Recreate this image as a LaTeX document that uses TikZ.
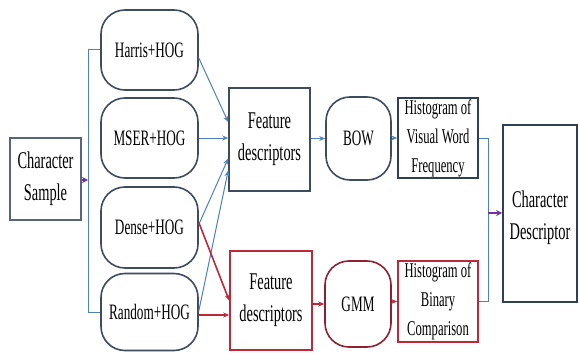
\documentclass[tikz,border=0pt]{standalone}
\usepackage{fontspec}
\setmainfont{Liberation Serif}[FakeStretch=0.6]
\usetikzlibrary{arrows.meta}
\definecolor{boxdark}{HTML}{3E4C5E}
\definecolor{csbox}{HTML}{56657A}
\definecolor{histblue}{HTML}{2F3F56}
\definecolor{lineblue}{HTML}{4F81BD}
\definecolor{redline}{HTML}{C0283A}
\definecolor{gmmred}{HTML}{8E2131}
\definecolor{purp}{HTML}{7030A0}
\tikzset{
  plainbox/.style={draw=boxdark, line width=1.6pt, inner sep=0pt, align=center, fill=white},
  roundbox/.style={plainbox, rounded corners=24pt},
  bigtext/.style={font=\fontsize{24}{32}\selectfont},
  midtext/.style={font=\fontsize{22}{28}\selectfont},
  histtext/.style={font=\fontsize{21}{29}\selectfont},
  blueconn/.style={draw=lineblue, line width=1pt, -{Stealth[length=6pt,width=5pt]}},
  bluewire/.style={draw=lineblue, line width=1pt},
  redconn/.style={draw=redline, line width=1.6pt, -{Stealth[length=6pt,width=5pt]}},
  purpconn/.style={draw=purp, line width=1.8pt, -{Stealth[length=6pt,width=6pt]}},
}
\begin{document}
\begin{tikzpicture}[x=1pt,y=-1pt]
\useasboundingbox[fill=white] (0,0) rectangle (579,353);
% nodes
\node[plainbox, draw=csbox, bigtext, minimum width=71pt, minimum height=82pt] (cs) at (45.5,179) {Character\\Sample};
\node[roundbox, midtext, minimum width=97pt, minimum height=80pt] (harris) at (149.5,50) {Harris+HOG};
\node[roundbox, midtext, minimum width=97pt, minimum height=80pt] (mser) at (149.5,138) {MSER+HOG};
\node[roundbox, midtext, minimum width=97pt, minimum height=81pt] (dense) at (149.5,227.5) {Dense+HOG};
\node[roundbox, midtext, minimum width=97pt, minimum height=77pt] (random) at (149.5,312) {Random+HOG};
\node[plainbox, bigtext, minimum width=81pt, minimum height=103pt] (fd1) at (269.5,139.5) {Feature\\descriptors};
\node[roundbox, midtext, minimum width=65pt, minimum height=83pt] (bow) at (358.5,138.5) {BOW};
\node[plainbox, draw=histblue, histtext, minimum width=80pt, minimum height=80pt] (h1) at (438,138) {Histogram of\\Visual Word\\Frequency};
\node[plainbox, draw=redline, bigtext, minimum width=82pt, minimum height=99pt] (fd2) at (271,300.5) {Feature\\descriptors};
\node[roundbox, draw=gmmred, midtext, minimum width=66pt, minimum height=86pt] (gmm) at (358,304) {GMM};
\node[plainbox, draw=redline, histtext, minimum width=80pt, minimum height=81pt] (h2) at (438,301.5) {Histogram of\\Binary\\Comparison};
\node[plainbox, draw=histblue, bigtext, minimum width=74pt, minimum height=177pt] (cd) at (540,213.5) {\\[-6pt]Character\\Descriptor};
% coordinates
\coordinate (split) at (88,180);
\coordinate (join) at (488,213);
\coordinate (redy) at (0,315);
% left distribution
\draw[purpconn] (cs.east |- split) -- (split);
\draw[bluewire] (harris.west) -| (split);
\draw[bluewire] (split) |- (random.west);
% into first feature descriptors
\draw[blueconn] ([yshift=-8pt]harris.east) -- ([yshift=17.5pt]fd1.west);
\draw[blueconn] (mser.east) -- (mser.east -| fd1.west);
\draw[blueconn] ([yshift=3pt]dense.east) -- ([yshift=-19pt]fd1.west);
\draw[blueconn] ([yshift=1pt]random.east) -- ([yshift=-31pt]fd1.west);
% into second feature descriptors
\draw[redconn] ([yshift=5pt]dense.east) -- (fd2.west);
\draw[redconn] (random.east |- redy) -- (fd2.west |- redy);
% top chain
\draw[blueconn] (fd1.east |- bow.west) -- (bow.west);
\draw[blueconn] (bow.east |- h1.west) -- (h1.west);
% bottom chain
\draw[redconn] (fd2.east |- gmm.west) -- (gmm.west);
\draw[redconn] (gmm.east |- h2.west) -- (h2.west);
% merge
\draw[bluewire] (h1.east) -| (join);
\draw[bluewire] (h2.east) -| (join);
\draw[purpconn] (join) -- (join -| cd.west);
\end{tikzpicture}
\end{document}
